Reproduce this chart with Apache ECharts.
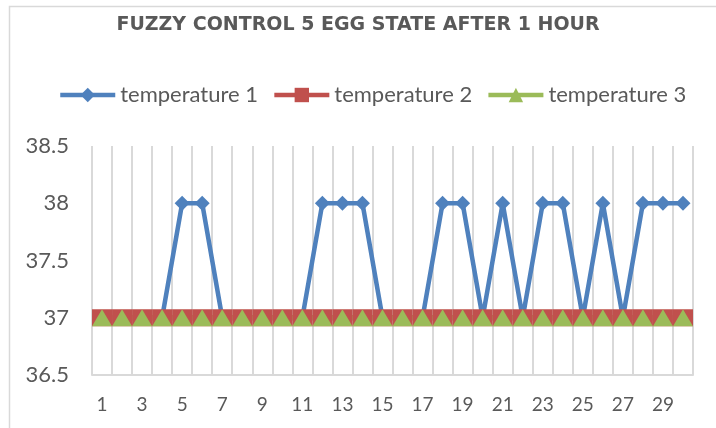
<!DOCTYPE html>
<html>
<head>
<meta charset="utf-8">
<script src="https://cdn.jsdelivr.net/npm/echarts@6/dist/echarts.min.js"></script>
<style>
html, body { margin: 0; padding: 0; background: #fff; }
#chart { width: 716px; height: 428px; }
</style>
</head>
<body>
<div id="chart"></div>
<script>
// hours 1..30
var categories = [];
for (var i = 1; i <= 30; i++) categories.push(String(i));

var temperature1 = [37, 37, 37, 37, 38, 38, 37, 37, 37, 37,
                    37, 38, 38, 38, 37, 37, 37, 38, 38, 37,
                    38, 37, 38, 38, 37, 38, 37, 38, 38, 38];
var temperature2 = [37, 37, 37, 37, 37, 37, 37, 37, 37, 37,
                    37, 37, 37, 37, 37, 37, 37, 37, 37, 37,
                    37, 37, 37, 37, 37, 37, 37, 37, 37, 37];
var temperature3 = [37, 37, 37, 37, 37, 37, 37, 37, 37, 37,
                    37, 37, 37, 37, 37, 37, 37, 37, 37, 37,
                    37, 37, 37, 37, 37, 37, 37, 37, 37, 37];
var seriesNames = ['temperature 1', 'temperature 2', 'temperature 3'];

var textColor = '#595959';
var gridColor = '#d9d9d9';
var chart = echarts.init(document.getElementById('chart'));

var option = {
    backgroundColor: '#fff',
    animation: false,
    graphic: [{
        type: 'rect',
        shape: { x: 9.5, y: 6.5, width: 720, height: 430 },
        style: { fill: 'none', stroke: gridColor, lineWidth: 1.5 },
        silent: true
    }],
    title: {
        text: 'FUZZY CONTROL 5 EGG STATE AFTER 1 HOUR',
        left: 'center',
        top: 16,
        padding: 0,
        textStyle: {
            fontFamily: 'DejaVu Sans',
            fontWeight: 'bold',
            fontSize: 19,
            color: textColor
        }
    },
    legend: {
        left: 58,
        top: 84,
        padding: 0,
        itemWidth: 55,
        itemHeight: 18,
        itemGap: 14,
        lineStyle: { width: 4.5 },
        textStyle: { fontFamily: 'Lato', fontSize: 22, color: textColor }
    },
    grid: { left: 92, right: 23, top: 146, bottom: 53 },
    xAxis: {
        type: 'category',
        data: categories,
        boundaryGap: true,
        axisTick: { show: false },
        axisLine: { lineStyle: { color: gridColor, width: 2 } },
        axisLabel: {
            interval: 1,
            margin: 20,
            fontFamily: 'Lato',
            fontSize: 19,
            color: textColor
        },
        splitLine: { show: true, interval: 0, lineStyle: { color: gridColor, width: 2 } }
    },
    yAxis: {
        type: 'value',
        min: 36.5,
        max: 38.5,
        interval: 0.5,
        axisLine: { show: false },
        axisTick: { show: false },
        splitLine: { show: false },
        axisLabel: { margin: 23, fontFamily: 'Lato', fontSize: 22, color: textColor }
    },
    series: [{
        name: seriesNames[0],
        type: 'line',
        data: temperature1,
        symbol: 'diamond',
        symbolSize: 15,
        showAllSymbol: true,
        color: '#4f81bd',
        lineStyle: { width: 4.5, color: '#4f81bd' }
    }, {
        name: seriesNames[1],
        type: 'line',
        data: temperature2,
        symbol: 'rect',
        symbolSize: [20, 17],
        showAllSymbol: true,
        color: '#c0504d',
        lineStyle: { width: 5, color: '#c0504d' }
    }, {
        name: seriesNames[2],
        type: 'line',
        data: temperature3,
        symbol: 'triangle',
        symbolSize: [20, 17],
        showAllSymbol: true,
        color: '#9bbb59',
        lineStyle: { width: 5, color: '#9bbb59' }
    }]
};
chart.setOption(option);
window.addEventListener('resize', function() {
    chart.resize();
});
</script>
</body>
</html>
